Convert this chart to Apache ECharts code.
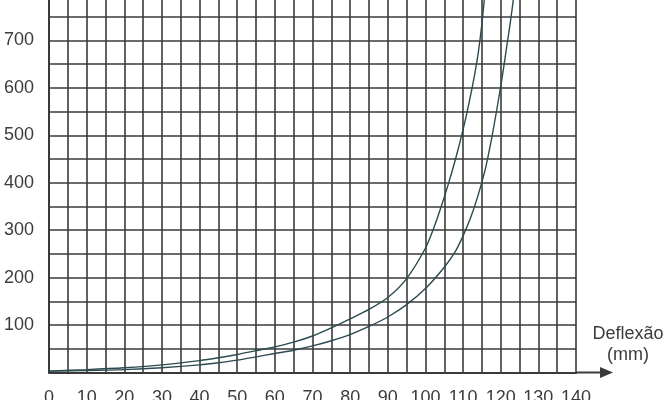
<!DOCTYPE html>
<html>
<head>
<meta charset="utf-8">
<script src="https://cdn.jsdelivr.net/npm/echarts@6/dist/echarts.min.js"></script>
<style>
html,body{margin:0;padding:0;background:#fff;}
#chart{width:668px;height:400px;}
</style>
</head>
<body>
<div id="chart"></div>
<script>
// Curve 1 (left / upper)
const deflexaoA = [0, 10, 20, 30, 40, 45, 50, 55, 60, 65, 70, 75, 80, 85, 90, 95, 100, 102, 104, 106, 108, 110, 111.5, 113, 114, 115, 115.8];
const cargaA    = [3, 6, 10, 16, 25, 31, 38, 46, 54, 64, 77, 94, 113, 133, 158, 198, 262, 300, 345, 395, 450, 512, 565, 625, 672, 735, 800];
// Curve 2 (right / lower)
const deflexaoB = [0, 10, 20, 30, 40, 45, 50, 55, 60, 65, 70, 75, 80, 85, 90, 95, 100, 105, 108, 110, 112, 114, 116, 117.5, 119, 120.5, 121.5, 122.5, 123.5, 124];
const cargaB    = [3, 4, 6, 10, 16, 20.5, 26, 33, 40, 47, 56, 67, 80, 97, 117, 143, 177, 222, 256, 288, 326, 374, 432, 490, 556, 628, 682, 735, 795, 825];
// Axis ticks
const xTicks = [0, 10, 20, 30, 40, 50, 60, 70, 80, 90, 100, 110, 120, 130, 140];
const yTicks = [100, 200, 300, 400, 500, 600, 700, 800];
const xName = 'Deflexão\n(mm)';

const gridColor = '#3a3a3a';
const lineColor = '#2c4a50';
const textColor = '#3c3c3c';
const font = 'Liberation Sans, Arial, Helvetica, sans-serif';

const chart = echarts.init(document.getElementById('chart'));
const zip = (xs, ys) => xs.map((x, i) => [x, ys[i]]);

chart.setOption({
  animation: false,
  backgroundColor: '#fff',
  grid: { left: 49, right: 92, top: -7, bottom: 27.5, outerBoundsMode: 'none', containLabel: false },
  xAxis: {
    type: 'value', min: 0, max: 140, interval: 5,
    name: xName, nameLocation: 'end', nameGap: 52,
    nameTextStyle: { fontFamily: font, fontSize: 18, color: textColor, align: 'center', verticalAlign: 'bottom', lineHeight: 21, padding: [0, 0, 7, 0] },
    axisLine: { show: true, lineStyle: { color: gridColor, width: 2 } },
    axisTick: { show: false },
    axisLabel: {
      fontFamily: font, fontSize: 18, color: textColor, margin: 17,
      formatter: v => xTicks.indexOf(v) >= 0 ? String(v) : ''
    },
    splitLine: { show: true, lineStyle: { color: gridColor, width: 1.6 } }
  },
  yAxis: {
    type: 'value', min: 0, max: 800, interval: 50,
    axisLine: { show: true, lineStyle: { color: gridColor, width: 2 } },
    axisTick: { show: false },
    axisLabel: {
      fontFamily: font, fontSize: 18, color: textColor, margin: 15,
      formatter: v => yTicks.indexOf(v) >= 0 ? String(v) : ''
    },
    splitLine: { show: true, lineStyle: { color: gridColor, width: 1.6 } }
  },
  series: [
    { type: 'line', data: zip(deflexaoA, cargaA), smooth: 0.3, symbol: 'none', clip: true,
      lineStyle: { color: lineColor, width: 1.4 } },
    { type: 'line', data: zip(deflexaoB, cargaB), smooth: 0.3, symbol: 'none', clip: true,
      lineStyle: { color: lineColor, width: 1.4 } }
  ]
});

// Axis arrow extending beyond the last gridline, positioned from the axis scale
const end = chart.convertToPixel({ gridIndex: 0 }, [140, 0]);
chart.setOption({
  graphic: [
    { type: 'line', shape: { x1: end[0], y1: end[1], x2: end[0] + 25, y2: end[1] },
      style: { stroke: gridColor, lineWidth: 2 } },
    { type: 'polygon', shape: { points: [[end[0] + 24, end[1] - 5.5], [end[0] + 37, end[1]], [end[0] + 24, end[1] + 5.5]] },
      style: { fill: gridColor } }
  ]
});
</script>
</body>
</html>
